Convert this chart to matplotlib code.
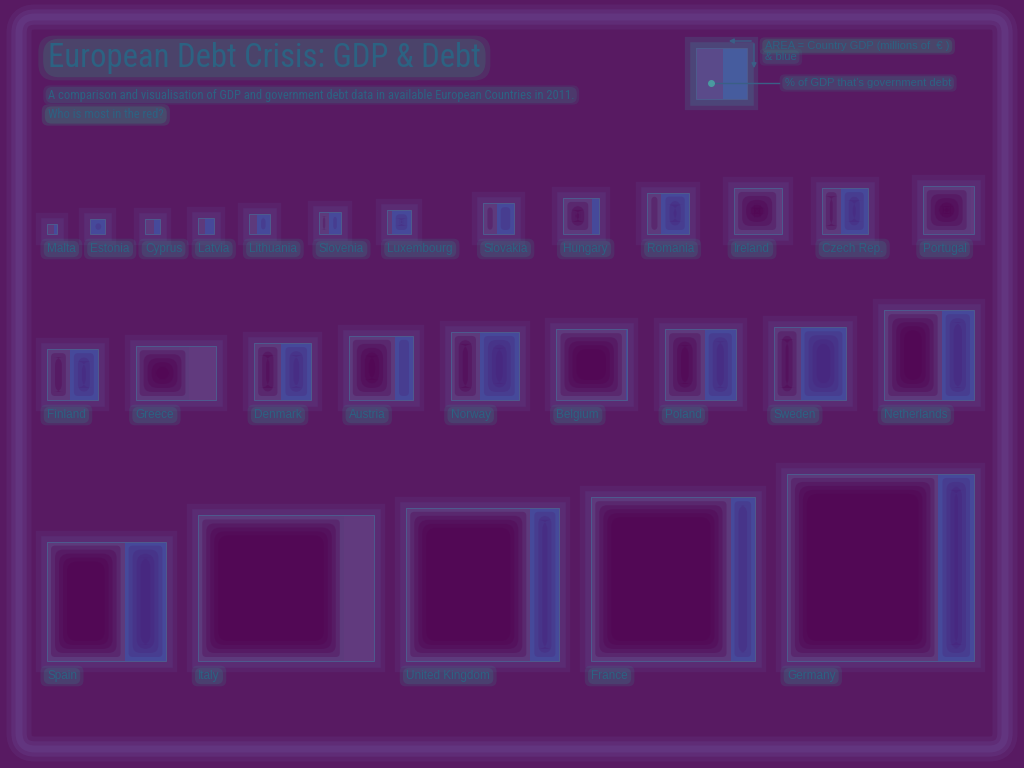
import matplotlib
matplotlib.use("Agg")
import matplotlib.pyplot as plt
from matplotlib.patches import Rectangle, FancyBboxPatch
import numpy as np

# data: GDP 2011 (millions of EUR) and government debt as share of GDP
countries = ["Malta", "Estonia", "Cyprus", "Latvia", "Lithuania", "Slovenia", "Luxembourg",
             "Slovakia", "Hungary", "Romania", "Ireland", "Czech Rep.", "Portugal",
             "Finland", "Greece", "Denmark", "Austria", "Norway", "Belgium", "Poland",
             "Sweden", "Netherlands",
             "Spain", "Italy", "United Kingdom", "France", "Germany"]
gdp = [7000, 16500, 17500, 19500, 30500, 36000, 42000,
       71000, 97000, 128000, 158000, 157000, 171000,
       193000, 216000, 242000, 307000, 345000, 374000, 374000,
       395000, 602000,
       1063000, 1580000, 1750000, 2001000, 2609000]
debt = [0.70, 0.06, 0.62, 0.42, 0.38, 0.47, 0.18,
        0.43, 0.80, 0.34, 1.05, 0.41, 1.07,
        0.45, 1.50, 0.48, 0.72, 0.43, 0.98, 0.56,
        0.37, 0.64,
        0.65, 1.21, 0.81, 0.85, 0.81]
row = [0] * 13 + [1] * 9 + [2] * 5

title = "European Debt Crisis: GDP & Debt"
subtitle = ("A comparison and visualisation of GDP and government debt data in available European Countries in 2011.\n"
            "Who is most in the red?")
legend_area = "AREA = Country GDP (millions of  \u20ac )\n& blue"
legend_pct = "% of GDP that\u2019s government debt"
legend_share = 0.53

# colours (as seen in the reference)
BG = "#581a62"
FRAME = "#6a4690"
HALO = "#5f5296"
RED_EDGE = "#5d3a7c"
RED_CORE = "#52004f"
BLUE = "#46499a"
BLUE_CORE = "#4a1c76"
OVER = "#613a7e"
TXT = "#2c6282"
GLOW = "#2f8f8c"

W, H = 1024, 768
fig = plt.figure(figsize=(W / 100, H / 100), dpi=100)
fig.patch.set_facecolor(BG)
ax = fig.add_axes([0, 0, 1, 1])
ax.set_xlim(0, W)
ax.set_ylim(H, 0)
ax.axis("off")

# outer frame, soft
for lw, a in [(18, 0.2), (11, 0.3), (5, 0.35)]:
    ax.add_patch(FancyBboxPatch((19, 17), W - 38, H - 36, boxstyle="round,pad=0,rounding_size=16",
                                fill=False, ec=FRAME, lw=lw, alpha=a))

head_font = ["Roboto Condensed", "Roboto", "DejaVu Sans"]
body_font = ["Liberation Sans", "DejaVu Sans"]


def soft_box(txt, color=GLOW, pads=(0.9, 0.55, 0.3), alphas=(0.15, 0.18, 0.22)):
    # stacked translucent boxes behind a text give a blurred glow
    renderer = fig.canvas.get_renderer()
    bb = txt.get_window_extent(renderer)
    x0, x1 = bb.x0, bb.x1
    y0, y1 = H - bb.y1, H - bb.y0
    h = y1 - y0
    for p, a in zip(pads, alphas):
        ax.add_patch(FancyBboxPatch((x0 - p * h * 0.6, y0 - p * h * 0.4),
                                    (x1 - x0) + 1.2 * p * h, h * (1 + 0.8 * p),
                                    boxstyle="round,pad=0,rounding_size=%f" % (h * 0.5),
                                    fc=color, ec="none", alpha=a, zorder=1))


t = ax.text(48, 58, title, fontsize=23.5, color=TXT, va="center", ha="left", family=head_font, zorder=3)
soft_box(t, "#31a07e", pads=(0.5, 0.25), alphas=(0.15, 0.2))
t = ax.text(48, 95, subtitle.split("\n")[0], fontsize=9, color=TXT, va="center", ha="left",
            family=head_font, zorder=3)
soft_box(t, pads=(0.6, 0.3), alphas=(0.13, 0.16))
t = ax.text(48, 115, subtitle.split("\n")[1], fontsize=9, color=TXT, va="center", ha="left",
            family=head_font, zorder=3)
soft_box(t, "#31a07e", pads=(0.8, 0.4), alphas=(0.18, 0.22))

k = 0.1158  # px per sqrt(million EUR)
left, right = 47, 974
baselines = [234, 400, 661]
label_font = dict(fontsize=8.5, color=TXT, family=body_font, zorder=3)


def layered(x0, y0, w, h, color, steps, step, alpha):
    for n in range(steps):
        ins = step * (n + 1)
        if w - 2 * ins <= 2 or h - 2 * ins <= 2:
            break
        ax.add_patch(FancyBboxPatch((x0 + ins, y0 + ins), w - 2 * ins, h - 2 * ins,
                                    boxstyle="round,pad=0,rounding_size=%f" % min(10, ins),
                                    fc=color, ec="none", alpha=alpha, zorder=2))


def draw_box(x0, base, s, d):
    top = base - s
    full = max(s, s * d)
    for lw, a in [(16, 0.16), (9, 0.22)]:
        ax.add_patch(Rectangle((x0, top), full, s, fill=False, ec=HALO, lw=lw, alpha=a, zorder=1))
    red_w = min(d, 1.0) * s
    ax.add_patch(Rectangle((x0, top), red_w, s, fc=RED_EDGE, ec="none", zorder=2))
    if d < 1:
        bw = s - red_w
        ax.add_patch(Rectangle((x0 + red_w, top), bw, s, fc=BLUE, ec="none", zorder=2))
        layered(x0 + red_w, top, bw, s, BLUE_CORE, 4, 4, 0.25)
    else:
        ax.add_patch(Rectangle((x0 + s, top), full - s, s, fc=OVER, ec="none", zorder=2))
    layered(x0, top, red_w, s, RED_CORE, 5, 4, 0.3)
    ax.add_patch(Rectangle((x0, top), full, s, fill=False, ec="#4e5b8e", lw=0.7, zorder=2))


renderer = fig.canvas.get_renderer()
for r in range(3):
    idx = [i for i in range(len(countries)) if row[i] == r]
    sides = [k * np.sqrt(gdp[i]) for i in idx]
    widths = [s * max(1.0, debt[i]) for s, i in zip(sides, idx)]
    labels = []
    lab_w = []
    for i in idx:
        t = ax.text(0, baselines[r] + 15, countries[i], va="center", ha="left", **label_font)
        labels.append(t)
        lab_w.append(t.get_window_extent(renderer).width)
    items = [max(a, b) for a, b in zip(widths, lab_w)]
    weights = [min(s, 40) for s in sides[1:]]
    free = (right - left) - sum(items[:-1]) - widths[-1]
    x = left
    for j, i in enumerate(idx):
        draw_box(x, baselines[r], sides[j], debt[i])
        labels[j].set_x(x)
        soft_box(labels[j], pads=(0.9, 0.45), alphas=(0.16, 0.2))
        if j < len(idx) - 1:
            x += items[j] + free * weights[j] / sum(weights)

# legend sample
ls = 51
lx, ly = 696, 99
for lw, a in [(16, 0.22), (9, 0.28)]:
    ax.add_patch(Rectangle((lx, ly - ls), ls, ls, fill=False, ec="#3f7f98", lw=lw, alpha=a, zorder=1))
ax.add_patch(Rectangle((lx, ly - ls), ls * legend_share, ls, fc="#5a4a8a", ec="none", zorder=2))
ax.add_patch(Rectangle((lx + ls * legend_share, ly - ls), ls * (1 - legend_share), ls, fc="#465c9e",
                       ec="none", zorder=2))
ax.add_patch(Rectangle((lx, ly - ls), ls, ls, fill=False, ec="#4e5b8e", lw=0.7, zorder=2))
ax.plot([711, 779], [83, 83], color="#3a5f86", lw=1, zorder=3)
ax.plot([711], [83], "o", ms=4, color="#4a9aa0", zorder=3)
ax.annotate("", xy=(726, 41), xytext=(754, 41), zorder=3,
            arrowprops=dict(arrowstyle="-|>", color="#3a5f86", lw=1, mutation_scale=7))
ax.annotate("", xy=(754, 71), xytext=(754, 41), zorder=3,
            arrowprops=dict(arrowstyle="-|>", color="#3a5f86", lw=1, mutation_scale=7))
t = ax.text(765, 46, legend_area.split("\n")[0], fontsize=8, color=TXT, va="center", ha="left",
            family=body_font, zorder=3)
soft_box(t, "#31a07e", pads=(0.9, 0.45), alphas=(0.16, 0.2))
t = ax.text(765, 57, legend_area.split("\n")[1], fontsize=8, color=TXT, va="center", ha="left",
            family=body_font, zorder=3)
soft_box(t, pads=(0.9, 0.45), alphas=(0.12, 0.16))
t = ax.text(785, 83, legend_pct, fontsize=8, color=TXT, va="center", ha="left", family=body_font, zorder=3)
soft_box(t, pads=(0.9, 0.45), alphas=(0.14, 0.18))

fig.savefig("out.png", dpi=100, facecolor=BG)
